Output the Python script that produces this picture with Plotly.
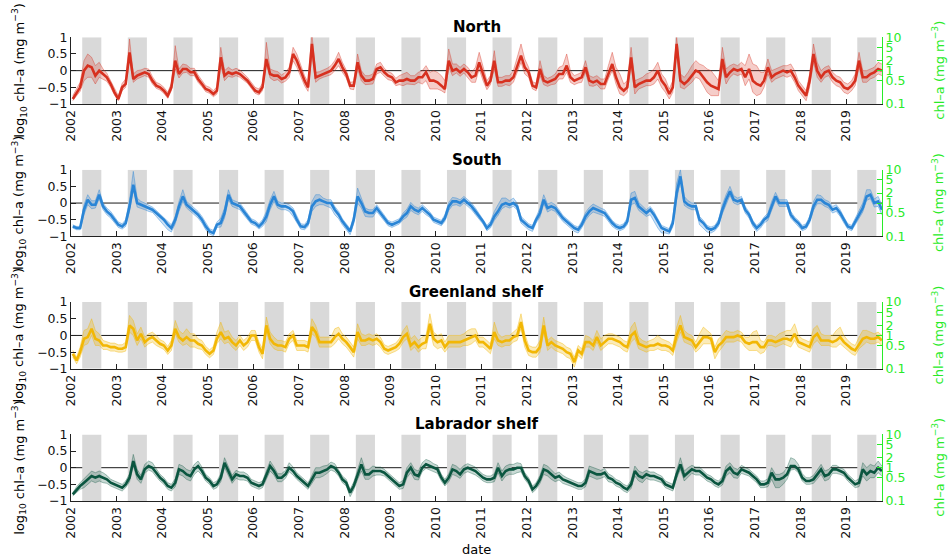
import plotly.graph_objects as go

# Monthly log10 chl-a (mg m^-3), Jan 2002 - Oct 2019, one row per year
north_mean = [
    -0.85, -0.65, -0.50, 0.00, 0.15, 0.10, -0.15, 0.00, -0.10, -0.20, -0.40, -0.65,
    -0.85, -0.50, -0.40, 0.55, -0.25, -0.15, -0.10, -0.05, -0.10, -0.30, -0.45, -0.50,
    -0.60, -0.75, -0.50, 0.30, -0.10, 0.05, 0.05, -0.05, -0.05, -0.25, -0.40, -0.55,
    -0.60, -0.70, -0.60, 0.40, -0.15, -0.05, -0.10, -0.05, -0.10, -0.20, -0.30, -0.45,
    -0.60, -0.65, -0.50, 0.35, -0.10, -0.15, -0.15, -0.25, -0.20, -0.05, 0.50, 0.30,
    0.00, -0.30, -0.50, 0.80, -0.20, -0.15, -0.10, -0.05, 0.00, 0.15, 0.35, 0.10,
    -0.10, -0.45, -0.45, 0.25, -0.15, -0.30, -0.30, -0.25, 0.05, 0.10, -0.05, -0.15,
    -0.20, -0.35, -0.30, -0.30, -0.25, -0.30, -0.30, -0.20, -0.20, -0.05, -0.30, -0.30,
    -0.35, -0.45, -0.55, 0.30, 0.00, 0.05, -0.05, 0.05, -0.05, -0.20, -0.15, 0.25,
    -0.10, -0.45, -0.30, 0.30, -0.35, -0.35, -0.30, -0.30, -0.20, 0.15, 0.45, 0.10,
    -0.05, -0.45, -0.50, 0.05, -0.30, -0.35, -0.30, -0.25, -0.10, -0.10, 0.15, -0.20,
    -0.30, -0.25, -0.20, 0.10, -0.30, -0.35, -0.30, -0.40, -0.40, -0.10, 0.20, -0.20,
    -0.50, -0.60, -0.50, 0.40, -0.50, -0.40, -0.35, -0.30, -0.30, -0.20, 0.00, -0.30,
    -0.45, -0.70, -0.50, 0.80, -0.30, -0.40, -0.30, -0.15, 0.00, -0.05, -0.20, -0.35,
    -0.45, -0.50, -0.55, 0.35, -0.20, -0.05, 0.05, 0.00, 0.05, -0.20, 0.05, -0.30,
    -0.40, -0.45, -0.30, 0.10, -0.20, -0.10, -0.05, 0.00, -0.05, 0.00, -0.20, -0.45,
    -0.60, -0.75, -0.30, 0.50, 0.00, -0.20, -0.05, 0.00, -0.20, -0.30, -0.35, -0.50,
    -0.55, -0.45, -0.30, 0.30, -0.20, -0.20, -0.10, -0.05, 0.05, 0.00,
]
north_up = [
    .10, .12, .15, .30, .35, .30, .30, .25, .15, .12, .10, .10,
    .10, .12, .15, .40, .15, .15, .12, .12, .15, .12, .10, .10,
    .10, .10, .12, .45, .15, .15, .12, .12, .12, .12, .10, .10,
    .10, .10, .12, .30, .15, .15, .12, .12, .12, .12, .10, .10,
    .10, .10, .12, .50, .15, .15, .12, .12, .15, .15, .20, .20,
    .20, .15, .15, .30, .15, .12, .12, .12, .15, .15, .20, .15,
    .12, .10, .12, .25, .15, .15, .15, .15, .15, .15, .12, .12,
    .12, .12, .15, .20, .20, .15, .15, .15, .20, .20, .25, .30,
    .30, .30, .25, .35, .20, .15, .15, .15, .15, .15, .25, .30,
    .25, .15, .15, .30, .15, .15, .15, .15, .20, .25, .35, .25,
    .15, .12, .12, .25, .15, .12, .12, .15, .20, .25, .35, .20,
    .15, .15, .15, .20, .15, .15, .15, .15, .15, .25, .35, .30,
    .40, .20, .20, .30, .20, .15, .15, .20, .25, .25, .25, .20,
    .20, .15, .20, .20, .20, .20, .25, .30, .30, .25, .35, .40,
    .45, .35, .25, .35, .25, .20, .15, .15, .20, .35, .45, .50,
    .55, .40, .25, .25, .20, .15, .15, .15, .20, .20, .20, .15,
    .15, .15, .20, .30, .25, .20, .15, .15, .15, .15, .15, .15,
    .15, .15, .20, .25, .20, .20, .15, .15, .20, .20,
]
north_dn = [
    .05, .10, .12, .30, .35, .30, .25, .20, .15, .12, .10, .08,
    .05, .10, .10, .20, .10, .10, .10, .10, .10, .10, .08, .08,
    .08, .08, .10, .25, .12, .12, .10, .10, .10, .10, .08, .08,
    .08, .08, .10, .25, .15, .12, .10, .10, .10, .10, .08, .08,
    .08, .08, .10, .15, .12, .15, .12, .12, .12, .15, .20, .20,
    .20, .15, .12, .30, .15, .10, .10, .10, .12, .15, .20, .15,
    .12, .10, .12, .20, .15, .12, .12, .15, .15, .15, .12, .12,
    .10, .10, .12, .15, .15, .12, .12, .15, .20, .25, .25, .25,
    .20, .15, .12, .20, .15, .12, .12, .12, .15, .15, .20, .20,
    .20, .12, .12, .25, .12, .12, .12, .15, .15, .20, .20, .20,
    .15, .10, .10, .20, .12, .12, .12, .15, .15, .15, .20, .15,
    .12, .12, .15, .15, .15, .12, .12, .15, .15, .15, .20, .20,
    .20, .15, .15, .25, .20, .15, .15, .15, .15, .20, .25, .20,
    .20, .15, .15, .25, .20, .15, .15, .20, .20, .20, .25, .30,
    .30, .25, .20, .25, .20, .15, .15, .15, .15, .25, .30, .35,
    .35, .25, .20, .20, .15, .15, .15, .15, .15, .15, .15, .15,
    .15, .15, .20, .25, .20, .15, .15, .15, .15, .15, .15, .15,
    .15, .15, .15, .20, .15, .15, .15, .15, .15, .15,
]

south_mean = [
    -0.70, -0.75, -0.75, -0.20, 0.10, -0.05, -0.05, 0.25, -0.10, -0.25, -0.35, -0.50,
    -0.65, -0.70, -0.60, -0.10, 0.55, 0.00, -0.05, -0.10, -0.15, -0.20, -0.30, -0.40,
    -0.50, -0.65, -0.75, -0.50, -0.10, 0.20, -0.05, -0.15, -0.25, -0.35, -0.50, -0.70,
    -0.85, -0.90, -0.65, -0.60, -0.30, 0.25, 0.00, -0.05, -0.10, -0.25, -0.40, -0.55,
    -0.60, -0.70, -0.60, -0.40, -0.05, 0.20, -0.05, -0.10, -0.10, -0.15, -0.25, -0.50,
    -0.70, -0.72, -0.60, -0.10, 0.05, 0.10, 0.05, 0.00, 0.00, -0.20, -0.35, -0.55,
    -0.70, -0.85, -0.50, 0.20, 0.00, -0.25, -0.30, -0.30, -0.15, -0.30, -0.45, -0.60,
    -0.65, -0.60, -0.55, -0.40, -0.30, -0.10, -0.20, -0.25, -0.15, -0.25, -0.35, -0.50,
    -0.55, -0.60, -0.45, -0.10, 0.05, 0.05, 0.00, 0.10, 0.00, -0.10, -0.25, -0.40,
    -0.55, -0.75, -0.65, -0.40, -0.25, -0.05, 0.00, -0.05, 0.00, -0.10, -0.50, -0.60,
    -0.70, -0.75, -0.50, -0.30, 0.10, -0.15, -0.10, -0.15, -0.30, -0.45, -0.55, -0.65,
    -0.75, -0.80, -0.65, -0.40, -0.25, -0.15, -0.20, -0.25, -0.30, -0.45, -0.60, -0.70,
    -0.75, -0.70, -0.55, 0.10, 0.15, -0.10, -0.20, -0.30, -0.20, -0.35, -0.55, -0.75,
    -0.80, -0.85, -0.60, 0.30, 0.80, 0.05, -0.05, -0.10, -0.10, -0.50, -0.60, -0.75,
    -0.80, -0.75, -0.60, -0.20, 0.10, 0.35, 0.10, 0.05, 0.10, -0.20, -0.35, -0.60,
    -0.75, -0.65, -0.50, -0.40, -0.10, 0.20, 0.00, 0.00, 0.00, -0.35, -0.50, -0.60,
    -0.75, -0.70, -0.50, -0.10, 0.10, 0.10, 0.00, -0.05, -0.20, -0.15, -0.30, -0.50,
    -0.70, -0.75, -0.55, -0.35, -0.15, 0.20, 0.25, 0.00, 0.05, -0.20,
]
south_up = [
    .05, .05, .05, .15, .15, .12, .12, .15, .10, .10, .10, .08,
    .08, .08, .10, .20, .40, .15, .10, .10, .10, .08, .08, .08,
    .08, .10, .10, .10, .15, .20, .10, .10, .10, .10, .10, .10,
    .08, .08, .08, .15, .15, .15, .10, .10, .10, .10, .10, .08,
    .08, .08, .10, .15, .15, .15, .10, .10, .10, .10, .10, .10,
    .08, .08, .10, .15, .20, .15, .10, .10, .10, .10, .10, .08,
    .08, .08, .12, .25, .15, .10, .10, .10, .10, .10, .08, .08,
    .08, .08, .08, .10, .12, .12, .10, .10, .10, .10, .08, .08,
    .08, .08, .10, .12, .12, .10, .10, .10, .10, .10, .10, .08,
    .08, .08, .10, .15, .20, .20, .15, .12, .15, .10, .10, .08,
    .08, .08, .10, .15, .15, .12, .12, .10, .10, .08, .08, .08,
    .08, .08, .10, .12, .12, .12, .10, .10, .10, .08, .08, .08,
    .08, .08, .10, .20, .20, .12, .10, .10, .10, .10, .08, .08,
    .08, .08, .12, .30, .20, .15, .12, .10, .10, .10, .08, .08,
    .08, .08, .10, .15, .15, .15, .12, .10, .10, .10, .08, .08,
    .08, .08, .08, .10, .15, .12, .10, .10, .10, .10, .08, .08,
    .08, .08, .10, .15, .15, .12, .10, .10, .10, .10, .10, .08,
    .08, .08, .10, .12, .15, .20, .15, .12, .15, .15,
]
south_dn = [
    .05, .05, .05, .15, .15, .12, .10, .12, .10, .10, .10, .08,
    .08, .08, .10, .15, .15, .12, .10, .10, .10, .08, .10, .12,
    .15, .15, .12, .12, .15, .15, .10, .10, .10, .10, .10, .10,
    .08, .08, .08, .12, .15, .15, .10, .10, .10, .10, .10, .08,
    .08, .08, .10, .15, .15, .15, .10, .10, .10, .10, .15, .10,
    .08, .08, .10, .15, .15, .15, .10, .10, .15, .15, .12, .10,
    .10, .10, .12, .20, .15, .15, .12, .12, .10, .10, .08, .08,
    .08, .08, .08, .10, .12, .12, .10, .10, .10, .10, .08, .08,
    .08, .08, .10, .12, .12, .10, .10, .10, .10, .10, .10, .08,
    .08, .08, .10, .12, .12, .12, .10, .10, .10, .10, .10, .10,
    .10, .10, .10, .12, .12, .12, .10, .10, .10, .10, .10, .10,
    .10, .10, .10, .12, .12, .12, .10, .10, .10, .10, .10, .08,
    .08, .08, .10, .15, .15, .12, .10, .10, .15, .20, .20, .15,
    .10, .08, .12, .20, .15, .12, .10, .10, .10, .15, .15, .12,
    .10, .08, .10, .12, .15, .12, .10, .10, .10, .10, .10, .10,
    .10, .10, .10, .12, .12, .12, .10, .10, .10, .10, .08, .08,
    .08, .08, .10, .12, .12, .12, .10, .10, .10, .10, .10, .10,
    .08, .08, .10, .12, .12, .12, .12, .12, .15, .15,
]

greenland_mean = [
    -0.55, -0.75, -0.50, -0.10, -0.05, 0.20, -0.10, -0.15, -0.30, -0.30, -0.35, -0.35,
    -0.40, -0.40, -0.35, 0.30, 0.20, -0.15, 0.05, -0.20, -0.10, -0.05, -0.15, -0.25,
    -0.30, -0.45, -0.30, 0.20, -0.05, -0.15, -0.05, -0.15, -0.15, -0.25, -0.30, -0.45,
    -0.55, -0.45, -0.10, 0.10, -0.10, -0.05, -0.20, -0.30, -0.15, -0.30, -0.20, 0.00,
    0.00, -0.35, -0.55, 0.30, -0.10, -0.25, -0.30, -0.30, -0.35, -0.10, 0.00, -0.30,
    -0.30, -0.30, -0.35, 0.25, 0.10, -0.20, -0.20, -0.20, -0.20, -0.05, 0.05, -0.10,
    -0.20, -0.35, -0.50, 0.10, -0.15, -0.15, -0.10, -0.15, -0.10, -0.20, -0.40, -0.45,
    -0.40, -0.35, -0.25, -0.05, 0.05, -0.30, -0.20, -0.35, -0.25, -0.20, 0.35, -0.10,
    -0.20, -0.15, -0.35, -0.20, -0.20, -0.20, -0.20, -0.15, -0.10, -0.05, 0.00, -0.20,
    -0.20, -0.30, -0.40, 0.10, -0.15, -0.20, -0.15, -0.15, -0.05, 0.00, 0.40, -0.15,
    -0.45, -0.50, -0.50, -0.35, 0.30, -0.30, -0.20, -0.30, -0.35, -0.40, -0.50, -0.55,
    -0.80, -0.45, -0.55, -0.20, -0.20, -0.30, -0.05, -0.30, -0.20, -0.10, -0.10, -0.15,
    -0.20, -0.30, -0.35, 0.00, 0.10, -0.25, -0.30, -0.35, -0.30, -0.30, -0.25, -0.30,
    -0.30, -0.35, -0.45, 0.00, 0.30, -0.05, -0.10, -0.15, -0.35, -0.20, -0.05, -0.05,
    -0.10, -0.50, -0.30, -0.20, -0.05, -0.05, -0.05, 0.00, -0.05, -0.20, -0.25, -0.20,
    -0.20, -0.35, -0.35, -0.15, -0.15, -0.20, -0.15, -0.10, -0.10, -0.15, 0.05, -0.20,
    -0.25, -0.30, -0.35, -0.05, 0.05, -0.15, -0.15, -0.15, -0.20, -0.15, -0.05, -0.20,
    -0.30, -0.40, -0.45, -0.25, -0.10, -0.05, -0.10, -0.10, -0.05, -0.15,
]
greenland_up = [
    .10, .10, .15, .25, .25, .30, .25, .20, .15, .12, .12, .12,
    .12, .12, .15, .30, .25, .20, .20, .15, .15, .15, .15, .12,
    .12, .12, .15, .25, .20, .20, .25, .20, .20, .15, .15, .12,
    .12, .12, .20, .30, .20, .20, .15, .15, .15, .15, .15, .15,
    .15, .15, .15, .25, .20, .20, .15, .15, .15, .15, .15, .15,
    .15, .15, .15, .25, .20, .15, .15, .15, .15, .25, .20, .15,
    .15, .15, .15, .25, .20, .15, .15, .15, .15, .15, .12, .12,
    .12, .12, .15, .20, .25, .20, .20, .20, .20, .20, .30, .20,
    .20, .20, .15, .20, .20, .20, .20, .20, .25, .25, .20, .15,
    .15, .15, .15, .30, .20, .15, .15, .15, .15, .20, .25, .20,
    .15, .15, .15, .20, .25, .15, .15, .15, .15, .15, .15, .15,
    .15, .15, .15, .20, .15, .15, .20, .20, .20, .15, .15, .15,
    .15, .15, .15, .25, .30, .20, .15, .15, .15, .20, .25, .20,
    .15, .15, .15, .25, .30, .20, .15, .15, .15, .25, .30, .20,
    .15, .15, .20, .20, .20, .15, .15, .15, .15, .15, .20, .30,
    .35, .20, .15, .15, .15, .15, .20, .20, .25, .30, .30, .20,
    .15, .15, .15, .25, .25, .20, .15, .15, .20, .30, .30, .20,
    .15, .15, .15, .20, .25, .20, .20, .15, .15, .15,
]
greenland_dn = [
    .10, .10, .15, .20, .20, .20, .20, .15, .12, .12, .12, .12,
    .10, .10, .12, .20, .20, .15, .15, .15, .15, .15, .15, .12,
    .12, .12, .15, .15, .15, .15, .20, .20, .20, .15, .12, .12,
    .12, .12, .15, .20, .15, .15, .15, .15, .15, .15, .15, .15,
    .15, .15, .15, .20, .15, .15, .15, .15, .15, .15, .15, .15,
    .15, .15, .15, .20, .15, .15, .15, .15, .15, .20, .15, .15,
    .15, .15, .15, .20, .15, .15, .15, .15, .15, .15, .12, .12,
    .12, .12, .15, .15, .15, .15, .15, .15, .15, .20, .20, .20,
    .20, .20, .15, .15, .15, .15, .15, .15, .20, .20, .15, .15,
    .15, .15, .15, .20, .15, .15, .15, .15, .15, .15, .20, .20,
    .15, .15, .15, .15, .20, .15, .15, .15, .15, .15, .15, .15,
    .15, .15, .15, .15, .15, .15, .15, .15, .15, .15, .15, .15,
    .15, .15, .15, .20, .20, .15, .15, .15, .15, .15, .15, .15,
    .15, .15, .15, .20, .20, .15, .15, .15, .15, .20, .20, .20,
    .15, .20, .20, .15, .15, .15, .15, .15, .15, .15, .20, .25,
    .25, .20, .15, .15, .15, .15, .15, .15, .20, .20, .20, .15,
    .15, .15, .15, .20, .20, .15, .15, .15, .15, .20, .20, .15,
    .15, .15, .15, .15, .20, .15, .15, .15, .15, .15,
]

labrador_mean = [
    -0.80, -0.65, -0.55, -0.45, -0.35, -0.25, -0.30, -0.25, -0.30, -0.35, -0.45, -0.50,
    -0.55, -0.60, -0.50, -0.30, 0.20, -0.20, -0.35, -0.05, 0.05, 0.00, -0.15, -0.30,
    -0.40, -0.55, -0.60, -0.45, -0.05, -0.10, -0.20, -0.25, -0.05, 0.05, -0.10, -0.30,
    -0.40, -0.55, -0.50, -0.30, 0.15, -0.10, -0.35, -0.20, -0.25, -0.25, -0.30, -0.45,
    -0.50, -0.55, -0.50, -0.20, 0.05, -0.10, -0.30, -0.30, -0.20, 0.00, -0.10, -0.25,
    -0.35, -0.45, -0.55, -0.35, -0.15, -0.15, -0.10, -0.05, 0.05, 0.00, -0.15, -0.35,
    -0.45, -0.75, -0.55, -0.20, 0.10, -0.20, -0.20, -0.10, -0.10, -0.10, -0.15, -0.25,
    -0.35, -0.45, -0.55, -0.50, -0.15, 0.00, -0.20, -0.25, 0.00, 0.10, 0.05, 0.00,
    -0.05, -0.30, -0.45, -0.30, -0.05, -0.10, -0.20, -0.05, 0.00, -0.05, -0.10, -0.20,
    -0.30, -0.35, -0.35, -0.30, 0.00, -0.25, -0.10, -0.05, -0.05, 0.00, 0.00, -0.25,
    -0.40, -0.65, -0.55, -0.35, -0.05, -0.10, -0.20, -0.30, -0.25, -0.35, -0.40, -0.45,
    -0.50, -0.55, -0.55, -0.45, -0.10, -0.15, -0.20, -0.20, -0.15, -0.30, -0.35, -0.45,
    -0.50, -0.60, -0.65, -0.50, -0.10, -0.25, -0.30, -0.20, -0.25, -0.25, -0.30, -0.35,
    -0.50, -0.55, -0.60, -0.20, 0.10, -0.25, -0.15, -0.05, -0.10, -0.10, -0.20, -0.30,
    -0.35, -0.45, -0.50, -0.40, -0.10, 0.00, -0.15, -0.20, -0.05, -0.10, -0.15, -0.25,
    -0.35, -0.50, -0.50, -0.45, -0.15, -0.35, -0.35, -0.30, -0.20, 0.05, 0.05, -0.05,
    -0.30, -0.40, -0.40, -0.35, -0.20, -0.05, -0.25, -0.20, -0.05, -0.05, -0.10, -0.15,
    -0.30, -0.40, -0.50, -0.45, -0.05, -0.20, -0.10, -0.15, 0.00, -0.10,
]
labrador_up = [
    .05, .08, .10, .12, .15, .15, .15, .15, .15, .12, .10, .10,
    .10, .10, .10, .12, .20, .15, .12, .15, .15, .15, .12, .10,
    .10, .10, .10, .12, .15, .15, .15, .15, .15, .15, .12, .10,
    .10, .10, .10, .12, .15, .15, .12, .12, .12, .12, .10, .10,
    .10, .10, .10, .12, .15, .12, .12, .12, .12, .15, .12, .10,
    .10, .10, .10, .12, .15, .15, .15, .12, .12, .12, .10, .10,
    .10, .10, .12, .15, .20, .15, .15, .15, .12, .12, .10, .10,
    .10, .10, .10, .12, .15, .15, .15, .15, .15, .15, .15, .12,
    .12, .10, .10, .12, .15, .15, .15, .12, .12, .12, .12, .10,
    .10, .10, .10, .12, .15, .15, .15, .15, .15, .15, .12, .10,
    .10, .10, .10, .12, .15, .15, .15, .12, .12, .12, .10, .10,
    .10, .10, .10, .12, .15, .15, .15, .12, .12, .12, .10, .10,
    .10, .10, .10, .12, .15, .15, .15, .12, .12, .12, .10, .10,
    .10, .10, .10, .12, .20, .15, .15, .12, .12, .12, .10, .10,
    .10, .10, .10, .12, .15, .15, .15, .15, .12, .12, .10, .10,
    .10, .10, .10, .12, .15, .15, .15, .15, .20, .25, .20, .15,
    .12, .10, .10, .12, .15, .15, .15, .15, .12, .12, .10, .10,
    .10, .10, .10, .12, .20, .20, .20, .20, .20, .15,
]
labrador_dn = [
    .05, .08, .10, .15, .15, .15, .15, .15, .15, .12, .10, .10,
    .10, .10, .10, .12, .15, .15, .12, .12, .12, .12, .12, .10,
    .10, .10, .10, .12, .15, .15, .15, .15, .15, .15, .12, .10,
    .10, .10, .10, .12, .15, .15, .12, .12, .12, .12, .10, .10,
    .10, .10, .10, .12, .15, .12, .12, .12, .12, .12, .12, .10,
    .10, .10, .10, .12, .15, .15, .15, .12, .12, .12, .10, .10,
    .10, .12, .12, .15, .20, .15, .15, .15, .12, .12, .10, .10,
    .10, .10, .10, .12, .15, .15, .15, .12, .12, .12, .12, .12,
    .12, .10, .10, .12, .15, .15, .12, .12, .12, .12, .12, .10,
    .10, .10, .10, .12, .15, .15, .15, .15, .15, .15, .12, .10,
    .10, .10, .10, .12, .15, .15, .15, .12, .12, .12, .10, .10,
    .10, .10, .10, .12, .15, .15, .15, .12, .12, .12, .10, .10,
    .10, .10, .10, .12, .15, .15, .15, .12, .12, .12, .10, .10,
    .10, .10, .10, .12, .15, .15, .15, .12, .12, .12, .10, .10,
    .10, .10, .10, .12, .15, .15, .15, .12, .12, .12, .10, .10,
    .10, .10, .10, .12, .20, .25, .25, .20, .15, .12, .10, .10,
    .10, .10, .10, .12, .15, .15, .15, .15, .12, .12, .10, .10,
    .10, .10, .10, .12, .20, .20, .20, .15, .15, .15,
]

region_names = ["North", "South", "Greenland shelf", "Labrador shelf"]
region_colors = ["#d7301f", "#2a85d6", "#f2b705", "#0b5640"]
region_fills = ["rgba(215,48,31,0.24)", "rgba(42,133,214,0.25)",
                "rgba(242,183,5,0.28)", "rgba(11,86,64,0.22)"]
region_edges = ["rgba(215,48,31,0.55)", "rgba(42,133,214,0.6)",
                "rgba(242,183,5,0.6)", "rgba(11,86,64,0.5)"]
series = [
    (north_mean, north_up, north_dn),
    (south_mean, south_up, south_dn),
    (greenland_mean, greenland_up, greenland_dn),
    (labrador_mean, labrador_up, labrador_dn),
]

years = list(range(2002, 2020))
year_ticks = [f"{y}-01-01" for y in years]
year_labels = [str(y) for y in years]
bloom_start, bloom_end = "04-01", "09-01"
right_ticks = [0.1, 0.5, 1, 2, 5, 10]
right_labels = ["0.1", "0.5", "1", "2", "5", "10"]

W, H = 949, 558
PLOT_L, PLOT_R = 71, 882
panel_px = [(37.3, 104.0), (169.7, 236.4), (302.1, 368.8), (434.4, 501.0)]
title_px = [27, 160, 292, 424]

FONT = "DejaVu Sans"
GREEN = "rgb(40,235,40)"
AXIS = "#222222"

def fy(py):
    return 1 - py / H

def fx(px):
    return (px - PLOT_L) / (PLOT_R - PLOT_L)

fig = go.Figure()
layout = dict(
    width=W, height=H,
    margin=dict(l=PLOT_L, r=W - PLOT_R, t=0, b=0, autoexpand=False),
    paper_bgcolor="white", plot_bgcolor="rgba(0,0,0,0)",
    showlegend=False,
    font=dict(family=FONT, size=12.5, color="black"),
    shapes=[], annotations=[],
)

for i, (mean, up, dn) in enumerate(series):
    k = i + 1
    n = min(len(mean), len(up), len(dn))
    dates = [f"{2002 + j // 12}-{j % 12 + 1:02d}-15" for j in range(n)]
    hi = [mean[j] + up[j] for j in range(n)]
    lo = [mean[j] - dn[j] for j in range(n)]
    xa = "x" if k == 1 else f"x{k}"
    ya = "y" if k == 1 else f"y{k}"
    yr = f"y{k + 4}"

    fig.add_trace(go.Scatter(x=dates, y=lo, xaxis=xa, yaxis=ya, mode="lines",
                             line=dict(color=region_edges[i], width=0.7),
                             hoverinfo="skip"))
    fig.add_trace(go.Scatter(x=dates, y=hi, xaxis=xa, yaxis=ya, mode="lines",
                             line=dict(color=region_edges[i], width=0.7),
                             fill="tonexty", fillcolor=region_fills[i],
                             hoverinfo="skip"))
    fig.add_trace(go.Scatter(x=dates, y=mean, xaxis=xa, yaxis=ya, mode="lines",
                             line=dict(color=region_colors[i], width=2.6),
                             hoverinfo="skip"))
    # keeps the right-hand linear chl-a axis drawn
    fig.add_trace(go.Scatter(x=[dates[0]], y=[1], xaxis=xa, yaxis=yr,
                             mode="markers", marker=dict(opacity=0),
                             hoverinfo="skip"))

    top, bot = panel_px[i]
    dom = [fy(bot), fy(top)]
    xname = "xaxis" if k == 1 else f"xaxis{k}"
    yname = "yaxis" if k == 1 else f"yaxis{k}"
    layout[xname] = dict(
        type="date", domain=[0, 1], anchor=ya, automargin=False,
        range=["2002-01-01", "2019-10-16"],
        tickvals=year_ticks, ticktext=year_labels, tickangle=-90,
        ticks="inside", ticklen=5, tickcolor=AXIS,
        showline=True, linecolor=AXIS, linewidth=1,
        showgrid=False, zeroline=False,
        tickfont=dict(family=FONT, size=12.5, color="#111111"),
    )
    layout[yname] = dict(
        domain=dom, anchor=xa, range=[-1, 1], automargin=False,
        tickvals=[-1, -0.5, 0, 0.5, 1],
        ticks="inside", ticklen=5, tickcolor=AXIS,
        showline=True, linecolor=AXIS, linewidth=1,
        showgrid=False, zeroline=False,
        tickfont=dict(family=FONT, size=12.5, color="#111111"),
    )
    layout[f"yaxis{k + 4}"] = dict(
        overlaying=ya, anchor=xa, side="right", type="log", range=[-1, 1],
        automargin=False,
        tickvals=right_ticks, ticktext=right_labels,
        ticks="inside", ticklen=5, tickcolor=GREEN,
        showline=True, linecolor=GREEN, linewidth=1,
        showgrid=False, zeroline=False,
        tickfont=dict(family=FONT, size=12.5, color=GREEN),
    )

    # growing-season shading
    for y in years:
        layout["shapes"].append(dict(
            type="rect", xref=xa, yref=ya, layer="below",
            x0=f"{y}-{bloom_start}", x1=f"{y}-{bloom_end}", y0=-1, y1=1,
            fillcolor="#d9d9d9", line=dict(width=0)))
    layout["shapes"].append(dict(
        type="line", xref=f"{xa} domain", yref=ya, layer="below",
        x0=0, x1=1, y0=0, y1=0, line=dict(color="#1a1a1a", width=1)))

    mid = fy((top + bot) / 2)
    layout["annotations"] += [
        dict(text=f"<b>{region_names[i]}</b>", xref="paper", yref="paper",
             x=0.5, y=fy(title_px[i]), xanchor="center", yanchor="middle",
             showarrow=False, font=dict(family=FONT, size=15, color="black")),
        dict(text="log<sub>10</sub> chl–a (mg m<sup>−3</sup>)",
             xref="paper", yref="paper", x=fx(19), y=mid, textangle=-90,
             xanchor="center", yanchor="middle", showarrow=False,
             font=dict(family=FONT, size=13, color="black")),
        dict(text="chl–a (mg m<sup>−3</sup>)",
             xref="paper", yref="paper", x=fx(938), y=mid, textangle=-90,
             xanchor="center", yanchor="middle", showarrow=False,
             font=dict(family=FONT, size=13, color=GREEN)),
    ]

layout["annotations"].append(dict(
    text="date", xref="paper", yref="paper", x=0.5, y=fy(549),
    xanchor="center", yanchor="middle", showarrow=False,
    font=dict(family=FONT, size=13, color="black")))

fig.update_layout(**layout)
fig.write_html("out.html")
